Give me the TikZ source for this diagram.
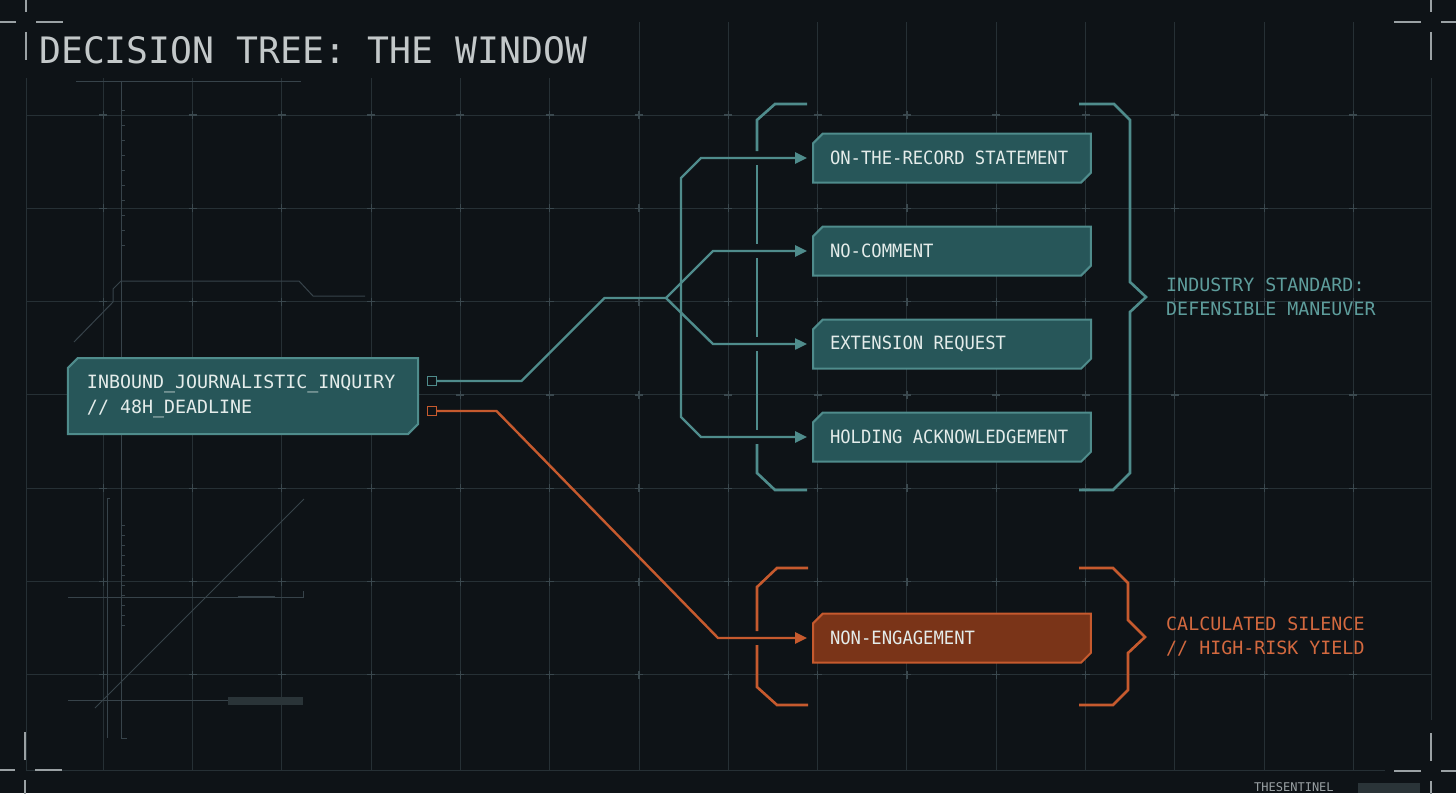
\documentclass[tikz,border=0pt]{standalone}
\usepackage{fontspec}
\usetikzlibrary{shapes.misc, arrows.meta, positioning, calc}
\newfontfamily\hudFont{DejaVu Sans Mono}
\newfontfamily\hudNarrow[FakeStretch=0.94]{DejaVu Sans Mono}
\definecolor{bgColor}{HTML}{0E1317}
\definecolor{gridColor}{HTML}{263035}
\definecolor{crossColor}{HTML}{3A484E}
\definecolor{decoColor}{HTML}{37434A}
\definecolor{decoFill}{HTML}{2A3438}
\definecolor{markColor}{HTML}{9AA1A4}
\definecolor{titleColor}{HTML}{C3C8C9}
\definecolor{tealLine}{HTML}{4F8C8C}
\definecolor{tealFill}{HTML}{275659}
\definecolor{tealText}{HTML}{5E9D9C}
\definecolor{riskLine}{HTML}{C65A2E}
\definecolor{riskFill}{HTML}{7A3418}
\definecolor{riskText}{HTML}{D3693F}
\definecolor{boxText}{HTML}{E4ECEA}

\begin{document}
\begin{tikzpicture}[
    x=1bp, y=-1bp,
    node distance=44bp and 20bp,
    % Box Styles
    base/.style={
        chamfered rectangle,
        chamfered rectangle corners={north west,south east},
        chamfered rectangle xsep=7bp,
        line width=2bp,
        align=flush left,
        text=boxText,
        inner ysep=0pt,
        outer sep=0pt
    },
    inputBox/.style={
        base,
        draw=tealLine,
        fill=tealFill,
        font=\hudFont\fontsize{18.3bp}{25bp}\selectfont,
        text width=312bp,
        inner xsep=12bp,
        minimum height=76bp
    },
    optBox/.style={
        base,
        draw=tealLine,
        fill=tealFill,
        font=\hudNarrow\fontsize{18.3bp}{25bp}\selectfont,
        text width=244bp,
        inner xsep=10bp,
        minimum height=49bp
    },
    riskBox/.style={
        optBox,
        draw=riskLine,
        fill=riskFill
    },
    port/.style={
        draw,
        fill=bgColor,
        line width=1.6bp,
        minimum size=9bp,
        inner sep=0pt,
        outer sep=0pt
    },
    % Line Styles
    link/.style={
        line width=2.4bp,
        line join=miter
    },
    connector/.style={
        link,
        -{Triangle[length=12bp,width=11bp]},
        shorten >=6bp
    },
    bracket/.style={line width=2.6bp},
    gridLine/.style={gridColor, line width=1bp},
    crossMark/.style={crossColor, line width=1.2bp},
    deco/.style={decoColor, line width=1bp},
    cornerMark/.style={markColor, line width=1.6bp},
    % Text Styles
    titleText/.style={
        font=\hudFont\fontsize{36.4bp}{40bp}\selectfont,
        text=titleColor,
        inner sep=0pt
    },
    sideLabel/.style={
        font=\hudFont\fontsize{18.3bp}{24bp}\selectfont,
        align=left,
        inner sep=0pt
    }
]

    % --- BACKGROUND & GRID ---
    \useasboundingbox (0,0) rectangle (1456,793);
    \clip (0,0) rectangle (1456,793);
    \fill[bgColor] (0,0) rectangle (1456,793);

    \foreach \i [evaluate=\i as \gx using 103.2+89.3*\i] in {0,...,14} {
        \pgfmathsetmacro{\gtop}{\gx<600 ? 78 : 22}
        \draw[gridLine] (\gx,\gtop) -- (\gx,770);
    }
    \foreach \j [evaluate=\j as \gy using 115+93.3*\j] in {0,...,6}
        \draw[gridLine] (26,\gy) -- (1431,\gy);
    \draw[gridLine] (26,78) -- (26,770) -- (1385,770);
    \draw[gridLine] (1431,78) -- (1431,720);

    % small crosses on the grid points
    \foreach \i in {0,...,14}
        \foreach \j in {0,...,6}
            \draw[crossMark] ({103.2+89.3*\i-4},{115+93.3*\j}) -- ++(8,0)
                ({103.2+89.3*\i},{115+93.3*\j-4}) -- ++(0,8);

    % faint plotter marks on the left
    \draw[deco] (76,81) -- (301,81);
    \draw[deco] (121,82) -- (121,738) -- ++(6,0);
    \draw[deco] (110,498) -- (107,498) -- (107,738);
    \foreach \y in {110,125,...,245,525,535,...,625}
        \draw[deco] (121,\y) -- ++(4,0);
    \draw[deco] (74,342) -- (113,302) -- (113,289) -- (121,281) -- (299,281) -- (313,296) -- (365,296);
    \draw[deco] (95,708) -- (304,499);
    \draw[deco] (68,597) -- (303,597) -- (303,591);
    \draw[deco, line width=2bp] (238,597) -- (275,597);
    \draw[deco] (68,700) -- (228,700);
    \fill[decoFill] (228,697) rectangle (303,705);

    % corner crosshairs
    \foreach \cx/\cy/\sx/\sy in {26/22/1/1, 1431/22/-1/1, 25/770/1/-1, 1431/771/-1/-1} {
        \draw[cornerMark] ({\cx+10*\sx},\cy) -- ({\cx+37*\sx},\cy);
        \draw[cornerMark] ({\cx-10*\sx},\cy) -- ({\cx-30*\sx},\cy);
        \draw[cornerMark] (\cx,{\cy+10*\sy}) -- (\cx,{\cy+38*\sy});
        \draw[cornerMark] (\cx,{\cy-10*\sy}) -- (\cx,{\cy-30*\sy});
    }

    % --- TITLE ---
    \node[titleText, anchor=base west] (title) at (39,64) {DECISION TREE: THE WINDOW};

    \node[font=\hudFont\fontsize{12bp}{14bp}\selectfont, text=markColor, anchor=south west, inner sep=0pt] (footer) at (1254,792) {THESENTINEL};
    \fill[decoFill] (1358,783) rectangle (1420,793);

    % --- INBOUND ---
    \node[inputBox] (inquiry) at (243,396) {INBOUND\_JOURNALISTIC\_INQUIRY\\// 48H\_DEADLINE};
    \node[port, draw=tealLine] (portSafe) at (432,381) {};
    \node[port, draw=riskLine] (portRisk) at (432,411) {};

    % --- OPTIONS ---
    \node[optBox] (record) at (952,158) {ON-THE-RECORD STATEMENT};
    \node[optBox, below=of record] (nocomment) {NO-COMMENT};
    \node[optBox, below=of nocomment] (extension) {EXTENSION REQUEST};
    \node[optBox, below=of extension] (holding) {HOLDING ACKNOWLEDGEMENT};

    \node[riskBox] (silence) at (952,638) {NON-ENGAGEMENT};

    % --- CONNECTIONS ---
    \coordinate (fork) at (666,298);
    \coordinate (spine) at (681,298);

    \draw[link, tealLine] (portSafe.east) -- ++(85,0) -- ++(83,-83) -- (fork);
    \draw[connector, tealLine] (fork) -- (713,0 |- nocomment.west) -- (nocomment.west);
    \draw[connector, tealLine] (fork) -- (713,0 |- extension.west) -- (extension.west);
    \draw[connector, tealLine] (spine) -- (681,178) -- (701,0 |- record.west) -- (record.west);
    \draw[connector, tealLine] (spine) -- (681,417) -- (701,0 |- holding.west) -- (holding.west);

    \draw[connector, riskLine] (portRisk.east) -- ++(60,0) -- (718,0 |- silence.west) -- (silence.west);

    % --- BRACKETS ---
    % standard group
    \draw[bracket, tealLine] (807,104) -- (775,104) -- (757,120) -- (757,151);
    \foreach \a/\b in {165/244, 258/337, 351/430}
        \draw[bracket, tealLine] (757,\a) -- (757,\b);
    \draw[bracket, tealLine] (757,444) -- (757,473) -- (775,490) -- (807,490);
    \draw[bracket, tealLine] (1079,104) -- (1114,104) -- (1130,120) -- (1130,282) -- (1146,297)
        -- (1130,312) -- (1130,473) -- (1113,490) -- (1079,490);
    \coordinate (tealTip) at (1146,297);

    % risk group
    \draw[bracket, riskLine] (808,568) -- (777,568) -- (757,587) -- (757,631);
    \draw[bracket, riskLine] (757,645) -- (757,687) -- (777,705) -- (808,705);
    \draw[bracket, riskLine] (1079,568) -- (1113,568) -- (1128,583) -- (1128,620) -- (1145,637)
        -- (1128,653) -- (1128,690) -- (1113,705) -- (1079,705);
    \coordinate (riskTip) at (1145,637);

    % --- SIDE LABELS ---
    \node[sideLabel, text=tealText, right=20bp of tealTip] (standardLbl) {INDUSTRY STANDARD:\\DEFENSIBLE MANEUVER};
    \node[sideLabel, text=riskText, right=21bp of riskTip] (silenceLbl) {CALCULATED SILENCE\\// HIGH-RISK YIELD};

\end{tikzpicture}
\end{document}
